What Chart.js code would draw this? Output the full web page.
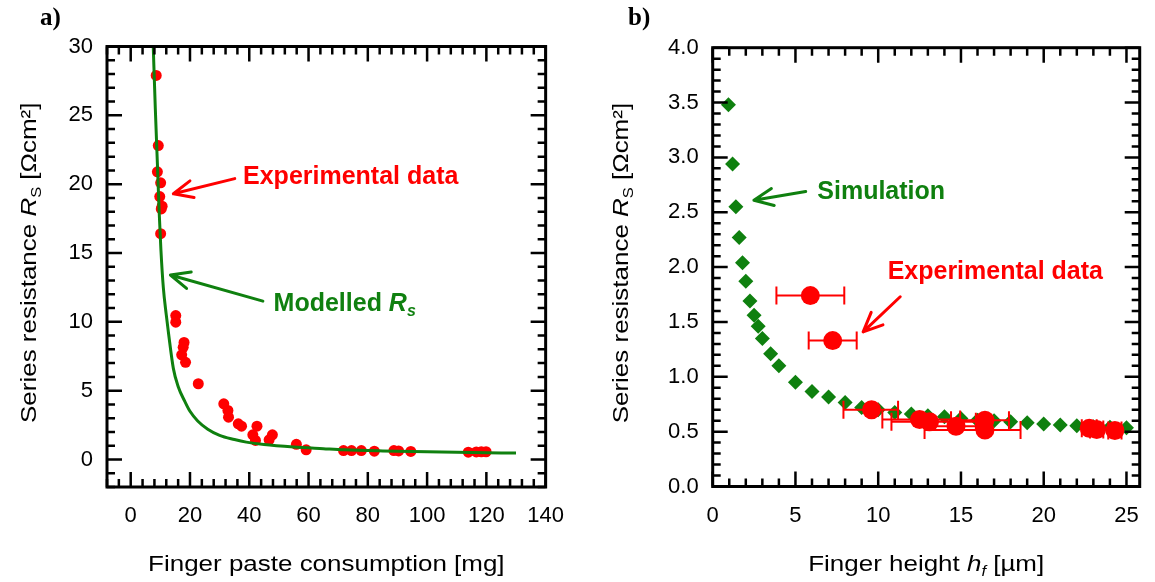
<!DOCTYPE html>
<html>
<head>
<meta charset="utf-8">
<script src="https://cdn.jsdelivr.net/npm/chart.js@4.4.0/dist/chart.umd.min.js"></script>
<style>
  html, body { margin: 0; padding: 0; background: #fff; }
  #wrap { position: relative; width: 1155px; height: 582px; overflow: hidden; }
  .panel { position: absolute; top: 0; }
  #panelA { left: 0; }
  #panelB { left: 580px; }
</style>
</head>
<body>
<div id="wrap">
  <div class="panel" id="panelA"><canvas id="chartA" width="580" height="582"></canvas></div>
  <div class="panel" id="panelB"><canvas id="chartB" width="575" height="582"></canvas></div>
</div>
<script>
// a) series resistance vs finger paste consumption
const pasteExp = [8.6, 9.3, 9.0, 10.1, 9.8, 10.6, 10.3, 10.1, 15.2, 15.2, 18.0, 17.7, 17.2, 18.5, 22.8,
  31.4, 32.8, 33.0, 36.3, 37.4, 42.6, 41.2, 42.1, 47.8, 46.7, 55.9, 59.2, 71.8, 74.5, 77.8, 82.2,
  88.8, 90.4, 94.5, 113.9, 116.6, 118.3, 119.9];
const rsExp = [27.9, 22.8, 20.9, 20.1, 19.1, 18.4, 18.2, 16.4, 10.45, 9.97, 8.5, 8.15, 7.6, 7.06, 5.5,
  4.04, 3.56, 3.07, 2.59, 2.42, 2.42, 1.79, 1.38, 1.79, 1.43, 1.1, 0.7, 0.65, 0.65, 0.65, 0.6,
  0.65, 0.62, 0.58, 0.53, 0.55, 0.56, 0.56];
const pasteModel = [7.6, 8.3, 9.0, 9.6, 10.2, 11, 12, 12.8, 14.4, 16, 18.3, 20, 22.6, 26, 30, 35, 39,
  45, 55, 65, 72, 85, 100, 115, 130];
const rsModel = [30, 25.5, 21.5, 18, 15.2, 12.5, 10.5, 9.1, 6.6, 5.3, 4.2, 3.5, 2.8, 2.2, 1.75, 1.45,
  1.26, 1.08, 0.9, 0.78, 0.7, 0.62, 0.56, 0.5, 0.47];

// b) series resistance vs finger height
const simHeight = [0.95, 1.2, 1.4, 1.6, 1.8, 2.0, 2.25, 2.5, 2.75, 3.0, 3.5, 4, 5, 6, 7, 8, 9, 10,
  11, 12, 13, 14, 15, 16, 17, 18, 19, 20, 21, 22, 23, 24, 25];
const simRs = [3.48, 2.94, 2.55, 2.27, 2.04, 1.87, 1.69, 1.56, 1.46, 1.35, 1.21, 1.10, 0.95, 0.865,
  0.815, 0.765, 0.72, 0.70, 0.675, 0.66, 0.645, 0.635, 0.62, 0.605, 0.60, 0.59, 0.58, 0.57, 0.56,
  0.553, 0.545, 0.54, 0.535];
const expHeight = [5.9, 7.25, 9.6, 12.5, 13.1, 14.7, 16.45, 16.45, 22.75, 23.2, 24.3];
const expRs = [1.74, 1.33, 0.70, 0.61, 0.59, 0.55, 0.605, 0.515, 0.53, 0.52, 0.51];
const expHeightLo = [3.85, 5.8, 7.9, 10.25, 10.8, 12.8, 14.4, 12.8, 22.3, 22.8, 23.9];
const expHeightHi = [7.95, 8.7, 11.2, 14.95, 15.9, 16.6, 17.9, 18.6, 23.2, 23.6, 24.7];

const FONT = '"Liberation Sans", Arial, sans-serif';
const RED = '#ff0000';
const GREEN = '#0f800f';

function drawRich(ctx, parts, cx, cy, o) {
  const size = o.size, weight = o.weight || 'normal', stretch = o.stretch || 1;
  const fontOf = p => (p.italic ? 'italic ' : '') + weight + ' ' + (p.sub ? Math.round(size * 0.65) : size) + 'px ' + FONT;
  let total = 0;
  const widths = parts.map(p => { ctx.font = fontOf(p); const w = ctx.measureText(p.t).width; total += w; return w; });
  ctx.save();
  ctx.translate(cx, cy);
  if (o.rotate) ctx.rotate(o.rotate);
  ctx.scale(stretch, 1);
  ctx.fillStyle = o.color || '#000';
  ctx.textBaseline = 'middle';
  ctx.textAlign = 'left';
  let x = o.align === 'left' ? 0 : -total / 2;
  parts.forEach((p, i) => {
    ctx.font = fontOf(p);
    ctx.fillText(p.t, x, p.sub ? size * 0.32 : 0);
    x += widths[i];
  });
  ctx.restore();
}

function arrow(ctx, x1, y1, x2, y2, color) {
  const ang = Math.atan2(y2 - y1, x2 - x1), head = 21, spread = 0.42;
  ctx.save();
  ctx.strokeStyle = color;
  ctx.lineWidth = 3;
  ctx.lineCap = 'round';
  ctx.lineJoin = 'round';
  ctx.beginPath();
  ctx.moveTo(x1, y1);
  ctx.lineTo(x2, y2);
  ctx.moveTo(x2 - head * Math.cos(ang - spread), y2 - head * Math.sin(ang - spread));
  ctx.lineTo(x2, y2);
  ctx.lineTo(x2 - head * Math.cos(ang + spread), y2 - head * Math.sin(ang + spread));
  ctx.stroke();
  ctx.restore();
}

// box around the plot with inward ticks on all four sides
const frameTicks = {
  id: 'frameTicks',
  afterDatasetsDraw(chart, args, opts) {
    const { ctx, chartArea: a, scales: { x, y } } = chart;
    ctx.save();
    ctx.strokeStyle = '#000';
    ctx.lineWidth = 2.5;
    ctx.beginPath();
    const run = (scale, step, every, fn) => {
      const k0 = Math.ceil(scale.min / step - 1e-6), k1 = Math.floor(scale.max / step + 1e-6);
      for (let k = k0; k <= k1; k++) {
        const px = scale.getPixelForValue(k * step);
        fn(px, k % every === 0 ? 15 : 8);
      }
    };
    run(x, opts.xStep, opts.xEvery, (px, len) => {
      ctx.moveTo(px, a.bottom); ctx.lineTo(px, a.bottom - len);
      ctx.moveTo(px, a.top); ctx.lineTo(px, a.top + len);
    });
    run(y, opts.yStep, opts.yEvery, (py, len) => {
      ctx.moveTo(a.left, py); ctx.lineTo(a.left + len, py);
      ctx.moveTo(a.right, py); ctx.lineTo(a.right - len, py);
    });
    ctx.stroke();
    ctx.lineWidth = 3;
    ctx.strokeRect(a.left, a.top, a.right - a.left, a.bottom - a.top);
    ctx.restore();
  }
};

// axis titles, panel letter and the arrow notes
const notes = {
  id: 'notes',
  afterDraw(chart, args, opts) {
    const { ctx, chartArea: a, scales: { x, y } } = chart;
    drawRich(ctx, opts.xTitle, (a.left + a.right) / 2, 565, { size: 22, stretch: 1.18 });
    drawRich(ctx, opts.yTitle, opts.yTitleX, (a.top + a.bottom) / 2 - 4, { size: 22, stretch: 1.18, rotate: -Math.PI / 2 });
    ctx.save();
    ctx.font = 'bold 25px "Liberation Serif", "Times New Roman", serif';
    ctx.fillStyle = '#000';
    ctx.textBaseline = 'middle';
    ctx.fillText(opts.panel, opts.panelX, 19);
    ctx.restore();
    opts.labels.forEach(n => {
      arrow(ctx, x.getPixelForValue(n.from[0]), y.getPixelForValue(n.from[1]),
        x.getPixelForValue(n.to[0]), y.getPixelForValue(n.to[1]), n.color);
      drawRich(ctx, n.parts, x.getPixelForValue(n.at[0]), y.getPixelForValue(n.at[1]),
        { size: 25, weight: 'bold', color: n.color, align: 'left' });
    });
  }
};

// horizontal error bars under the experimental points
const errorBars = {
  id: 'errorBars',
  beforeDatasetDraw(chart, args, opts) {
    if (!opts.lo || args.index !== opts.index) return;
    const { ctx, scales: { x, y } } = chart;
    ctx.save();
    ctx.strokeStyle = RED;
    ctx.lineWidth = 2;
    ctx.beginPath();
    opts.lo.forEach((lo, i) => {
      const py = y.getPixelForValue(opts.yv[i]);
      const x0 = x.getPixelForValue(lo), x1 = x.getPixelForValue(opts.hi[i]);
      ctx.moveTo(x0, py); ctx.lineTo(x1, py);
      ctx.moveTo(x0, py - 9); ctx.lineTo(x0, py + 9);
      ctx.moveTo(x1, py - 9); ctx.lineTo(x1, py + 9);
    });
    ctx.stroke();
    ctx.restore();
  }
};

Chart.register(frameTicks, notes, errorBars);

const tickFont = { family: FONT, size: 22 };
function axis(min, max, step, pad, fit, fmt) {
  return {
    type: 'linear', min, max,
    grid: { display: false, drawTicks: false },
    border: { display: false },
    afterFit: fit,
    ticks: { stepSize: step, includeBounds: false, padding: pad, color: '#000', font: tickFont,
      maxRotation: 0, autoSkip: false, callback: fmt || (v => String(v)) }
  };
}

new Chart(document.getElementById('chartA'), {
  type: 'scatter',
  data: {
    datasets: [
      { label: 'Modelled Rs', data: pasteModel.map((v, i) => ({ x: v, y: rsModel[i] })), showLine: true,
        borderColor: GREEN, borderWidth: 3, pointRadius: 0, cubicInterpolationMode: 'monotone', fill: false },
      { label: 'Experimental data', data: pasteExp.map((v, i) => ({ x: v, y: rsExp[i] })),
        backgroundColor: RED, borderWidth: 0, pointRadius: 5.5 }
    ]
  },
  options: {
    responsive: false, animation: false,
    layout: { padding: { top: 46.5, right: 22, left: 0, bottom: 0 } },
    scales: {
      x: axis(-8, 140, 20, 16, s => { s.height = 95; }),
      y: axis(-2, 30, 5, 14, s => { s.width = 107; })
    },
    plugins: {
      legend: { display: false }, tooltip: { enabled: false },
      frameTicks: { xStep: 4, xEvery: 5, yStep: 1, yEvery: 5 },
      notes: {
        panel: 'a)', panelX: 40, yTitleX: 30,
        xTitle: [{ t: 'Finger paste consumption [mg]' }],
        yTitle: [{ t: 'Series resistance ' }, { t: 'R', italic: true }, { t: 'S', sub: true }, { t: ' [\u03A9cm\u00B2]' }],
        labels: [
          { parts: [{ t: 'Experimental data' }], color: RED, at: [37.9, 20.5], from: [35.1, 20.4], to: [14.4, 19.3] },
          { parts: [{ t: 'Modelled ' }, { t: 'R', italic: true }, { t: 's', italic: true, sub: true }], color: GREEN,
            at: [48.2, 11.3], from: [44.6, 11.5], to: [13.4, 13.4] }
        ]
      }
    }
  }
});

new Chart(document.getElementById('chartB'), {
  type: 'scatter',
  data: {
    datasets: [
      { label: 'Experimental data', data: expHeight.map((v, i) => ({ x: v, y: expRs[i] })),
        backgroundColor: RED, borderWidth: 0, pointRadius: 9.5 },
      { label: 'Simulation', data: simHeight.map((v, i) => ({ x: v, y: simRs[i] })),
        backgroundColor: GREEN, borderWidth: 0, pointStyle: 'rectRot', pointRadius: 7.5 }
    ]
  },
  options: {
    responsive: false, animation: false,
    layout: { padding: { top: 47.7, right: 4.3, left: 0, bottom: 0 } },
    scales: {
      x: axis(0, 25.8, 5, 16, s => { s.height = 95.5; }),
      y: axis(0, 4, 0.5, 14, s => { s.width = 132.7; }, v => v.toFixed(1))
    },
    plugins: {
      legend: { display: false }, tooltip: { enabled: false },
      frameTicks: { xStep: 1, xEvery: 5, yStep: 0.1, yEvery: 5 },
      errorBars: { index: 0, yv: expRs, lo: expHeightLo, hi: expHeightHi },
      notes: {
        panel: 'b)', panelX: 48, yTitleX: 42,
        xTitle: [{ t: 'Finger height ' }, { t: 'h', italic: true }, { t: 'f', italic: true, sub: true }, { t: ' [\u00B5m]' }],
        yTitle: [{ t: 'Series resistance ' }, { t: 'R', italic: true }, { t: 'S', sub: true }, { t: ' [\u03A9cm\u00B2]' }],
        labels: [
          { parts: [{ t: 'Simulation' }], color: GREEN, at: [6.32, 2.685], from: [5.62, 2.69], to: [2.49, 2.61] },
          { parts: [{ t: 'Experimental data' }], color: RED, at: [10.57, 1.95], from: [11.33, 1.73], to: [9.09, 1.41] }
        ]
      }
    }
  }
});
</script>
</body>
</html>
